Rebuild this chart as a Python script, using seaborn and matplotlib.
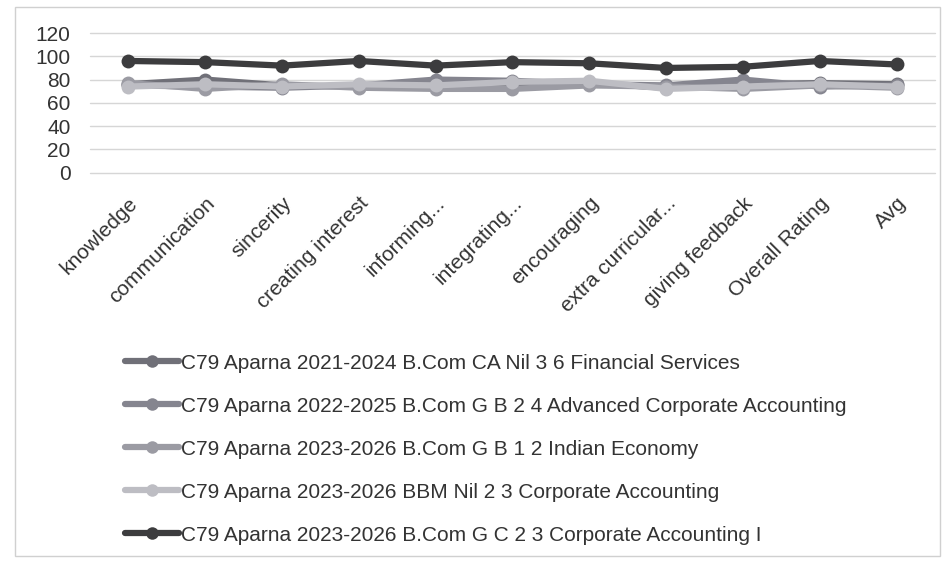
import matplotlib
matplotlib.use("Agg")
import matplotlib.pyplot as plt
import seaborn as sns
import pandas as pd
from matplotlib.patches import Rectangle
from matplotlib.lines import Line2D

categories = ["knowledge", "communication", "sincerity", "creating interest",
              "informing...", "integrating...", "encouraging",
              "extra curricular...", "giving feedback", "Overall Rating", "Avg"]

series_names = [
    "C79 Aparna 2021-2024 B.Com CA Nil 3 6 Financial Services",
    "C79 Aparna 2022-2025 B.Com G B 2 4 Advanced Corporate Accounting",
    "C79 Aparna 2023-2026 B.Com G B 1 2 Indian Economy",
    "C79 Aparna 2023-2026 BBM Nil 2 3 Corporate Accounting",
    "C79 Aparna 2023-2026 B.Com G C 2 3 Corporate Accounting I",
]

s1 = [76, 80, 75, 74, 78, 76, 77, 73, 76, 77, 76]
s2 = [75, 74, 73, 75, 80, 79, 76, 75, 80, 74, 75]
s3 = [77, 72, 76, 73, 72, 72, 75, 74, 72, 75, 73]
s4 = [74, 76, 74, 76, 75, 78, 79, 72, 74, 76, 74]
s5 = [96, 95, 92, 96, 92, 95, 94, 90, 91, 96, 93]

colors = ["#707078", "#85858f", "#9b9ba3", "#bdbdc3", "#3c3c3e"]

rows = []
for name, vals in zip(series_names, [s1, s2, s3, s4, s5]):
    for i, (c, v) in enumerate(zip(categories, vals)):
        rows.append({"pos": i, "category": c, "series": name, "value": v})
df = pd.DataFrame(rows)

sns.set_theme(style="white")
plt.rcParams["font.family"] = ["Liberation Sans", "DejaVu Sans"]

fig = plt.figure(figsize=(9.42, 5.63), dpi=100)
ax = fig.add_axes([0.0955, 0.6933, 0.897, 0.248])

sns.lineplot(data=df, x="pos", y="value", hue="series", hue_order=series_names,
             palette=colors, marker="o", markersize=10, markeredgewidth=0,
             linewidth=4.5, sort=False, ax=ax, legend=False)

ax.set_xlim(-0.5, len(categories) - 0.5)
ax.set_ylim(0, 120)
ax.set_yticks(range(0, 121, 20))
ax.set_xticks(range(len(categories)))
ax.set_xticklabels(categories, rotation=45, ha="right", rotation_mode="anchor",
                   fontsize=15, color="#333333")
ax.tick_params(axis="y", labelsize=15, colors="#333333", length=0, pad=14)
ax.tick_params(axis="x", length=0, pad=15)
ax.set_xlabel("")
ax.set_ylabel("")
ax.grid(axis="y", color="#d6d6d6", linewidth=1)
for gl in ax.get_ygridlines():
    gl.set_clip_on(False)
for sp in ax.spines.values():
    sp.set_visible(False)

handles = [Line2D([0], [0], color=c, linewidth=4.5, marker="o", markersize=9,
                  markeredgewidth=0) for c in colors]
fig.legend(handles, series_names, loc="upper left", bbox_to_anchor=(0.128, 0.379),
           frameon=False, fontsize=15, handlelength=2.6, handletextpad=0.1,
           labelspacing=1.15, labelcolor="#333333", borderaxespad=0,
           borderpad=0.2)

fig.patches.append(Rectangle((15 / 942, 1 - 556 / 563), 925 / 942, 549 / 563,
                             transform=fig.transFigure, fill=False,
                             edgecolor="#d0d0d0", linewidth=1))

fig.savefig("out.png", dpi=100, facecolor="white")
